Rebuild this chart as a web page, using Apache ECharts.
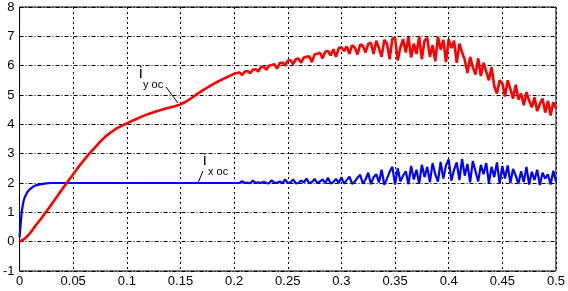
<!DOCTYPE html>
<html>
<head>
<meta charset="utf-8">
<script src="https://cdn.jsdelivr.net/npm/echarts@6/dist/echarts.min.js"></script>
<style>
  html, body { margin: 0; padding: 0; background: #fff; }
  #chart { width: 568px; height: 291px; }
</style>
</head>
<body>
<div id="chart"></div>
<script>
// time axis in seconds, currents
const xTicks = [0, 0.05, 0.1, 0.15, 0.2, 0.25, 0.3, 0.35, 0.4, 0.45, 0.5];
const yTicks = [-1, 0, 1, 2, 3, 4, 5, 6, 7, 8];

// i_y oc, smooth rise: samples every 5 ms from t = 0 to 0.2
const redRiseStep = 0.005;
const redRise = [
  0, 0.1, 0.3, 0.55, 0.78, 1.03, 1.28, 1.54, 1.8, 2.05,
  2.3, 2.55, 2.78, 3.0, 3.2, 3.4, 3.58, 3.72, 3.85, 3.95,
  4.03, 4.12, 4.2, 4.28, 4.35, 4.41, 4.47, 4.52, 4.57, 4.62,
  4.68, 4.77, 4.89, 5.02, 5.14, 5.25, 5.36, 5.46, 5.55, 5.64,
  5.72
];

// noisy part: samples every 2.5 ms from t = 0.2025 to 0.5
const noisyStart = 0.2;
const noisyStep = 0.0025;
const redNoisy = [
  5.75, 5.77, 5.68, 5.80, 5.82, 5.74, 5.86, 5.88, 5.80, 5.95,
  5.97, 5.86, 6.00, 6.02, 6.05, 5.90, 6.08, 6.11, 6.00, 6.17,
  6.19, 6.05, 6.22, 6.24, 6.10, 6.28, 6.30, 6.32, 6.12, 6.38,
  6.41, 6.44, 6.25, 6.48, 6.50, 6.35, 6.56, 6.30, 6.60, 6.63,
  6.50, 6.66, 6.40, 6.70, 6.62, 6.38, 6.72, 6.68, 6.45, 6.74,
  6.78, 6.40, 6.85, 6.60, 6.30, 6.88, 6.75, 6.22, 6.92, 6.95,
  6.18, 6.62, 6.90, 6.45, 6.98, 6.28, 6.75, 6.40, 7.00, 6.22,
  6.85, 6.95, 6.30, 6.70, 6.15, 6.98, 6.55, 6.88, 6.12, 6.90,
  6.60, 6.85, 6.10, 6.75, 6.45, 6.20, 5.75, 6.30, 5.95, 5.70,
  6.25, 5.65, 6.10, 5.80, 5.50, 5.95, 5.30, 5.05, 5.50, 5.40,
  4.95, 5.50, 5.20, 4.88, 5.35, 4.85, 5.05, 4.65, 5.10, 4.80,
  4.58, 4.92, 4.45, 4.70, 4.88, 4.40, 4.80, 4.30, 4.75, 4.55
];

// i_x oc, fast rise then flat at 2
const blueRiseT = [0, 0.001, 0.002, 0.003, 0.004, 0.005, 0.0075, 0.01, 0.0125, 0.015, 0.02, 0.025, 0.03, 0.1, 0.2];
const blueRise = [0.15, 0.6, 1.0, 1.25, 1.42, 1.53, 1.7, 1.8, 1.87, 1.92, 1.96, 1.99, 2.0, 2.0, 2.0];

const blueNoisy = [
  2.0, 2.0, 2.06, 2.0, 2.01, 1.99, 2.08, 2.0, 2.02, 2.0,
  2.04, 2.0, 1.99, 2.09, 2.01, 2.0, 2.05, 1.99, 2.12, 2.0,
  2.02, 2.12, 1.99, 2.0, 2.08, 2.02, 2.15, 1.99, 2.03, 2.14,
  1.99, 2.05, 2.12, 2.0, 2.18, 1.98, 2.03, 2.14, 2.0, 2.20,
  1.98, 2.10, 2.22, 1.97, 2.05, 2.18, 2.28, 1.98, 2.12, 2.35,
  1.96, 2.20, 2.30, 2.02, 2.45, 1.94, 2.15, 2.38, 2.55, 1.95,
  2.50, 2.05, 2.25, 2.40, 1.96, 2.58, 2.12, 2.45, 1.97, 2.62,
  2.20, 2.55, 2.02, 2.68, 2.30, 2.05, 2.72, 2.15, 2.60, 2.80,
  2.08, 2.45, 2.70, 2.10, 2.82, 2.25, 2.65, 2.02, 2.75, 2.40,
  2.05, 2.62, 2.30, 2.68, 2.00, 2.55, 2.20, 2.70, 1.98, 2.58,
  2.15, 2.60, 2.00, 2.48, 2.25, 1.97, 2.40, 2.03, 2.55, 1.95,
  2.38, 2.10, 2.45, 1.93, 2.35, 2.15, 2.30, 1.95, 2.42, 2.05
];

const round = (v) => Math.round(v * 10000) / 10000;

function noisyPairs(values) {
  return values.map((v, i) => [round(noisyStart + noisyStep * (i + 1)), v]);
}

const redData = redRise.map((v, i) => [round(redRiseStep * i), v]).concat(noisyPairs(redNoisy));
const blueData = blueRiseT.map((t, i) => [t, blueRise[i]]).concat(noisyPairs(blueNoisy));

const font = "Arial, 'Liberation Sans', Helvetica, sans-serif";

const chart = echarts.init(document.getElementById("chart"), null, { renderer: "canvas" });

chart.setOption({
  animation: false,
  backgroundColor: "#fff",
  grid: {
    left: 18,
    right: 12,
    top: 7,
    bottom: 20,
    show: true,
    borderColor: "#000",
    borderWidth: 1,
    backgroundColor: "transparent"
  },
  xAxis: {
    type: "value",
    min: xTicks[0],
    max: xTicks[xTicks.length - 1],
    interval: 0.05,
    axisLine: { show: false },
    axisTick: { show: false },
    axisLabel: {
      color: "#000",
      fontFamily: font,
      fontSize: 13,
      margin: 4,
      formatter: (v) => String(+v.toFixed(2))
    },
    splitLine: {
      show: true,
      lineStyle: { color: "#000", width: 1, type: [2, 3] }
    }
  },
  yAxis: {
    type: "value",
    min: yTicks[0],
    max: yTicks[yTicks.length - 1],
    interval: 1,
    axisLine: { show: false },
    axisTick: { show: false },
    axisLabel: {
      color: "#000",
      fontFamily: font,
      fontSize: 13,
      margin: 5
    },
    splitLine: {
      show: true,
      lineStyle: { color: "#000", width: 1, type: [4, 2, 1, 2] }
    }
  },
  series: [
    {
      name: "i x oc",
      type: "line",
      data: blueData,
      showSymbol: false,
      lineStyle: { color: "#0000ff", width: 2.2 },
      z: 3
    },
    {
      name: "i y oc",
      type: "line",
      data: redData,
      showSymbol: false,
      lineStyle: { color: "#ff0000", width: 2.6 },
      z: 4
    }
  ],
  graphic: [
    { type: "text", left: 139, top: 66, style: { text: "i", font: "16px " + font, fill: "#000" }, z: 10 },
    { type: "text", left: 143, top: 79, style: { text: "y oc", font: "11px " + font, fill: "#000" }, z: 10 },
    { type: "line", shape: { x1: 166, y1: 87, x2: 178, y2: 103 }, style: { stroke: "#000", lineWidth: 1 }, z: 10 },
    { type: "text", left: 203, top: 153, style: { text: "i", font: "16px " + font, fill: "#000" }, z: 10 },
    { type: "text", left: 208, top: 166, style: { text: "x oc", font: "11px " + font, fill: "#000" }, z: 10 },
    { type: "line", shape: { x1: 198, y1: 183, x2: 203, y2: 171 }, style: { stroke: "#000", lineWidth: 1 }, z: 10 }
  ]
});
</script>
</body>
</html>
